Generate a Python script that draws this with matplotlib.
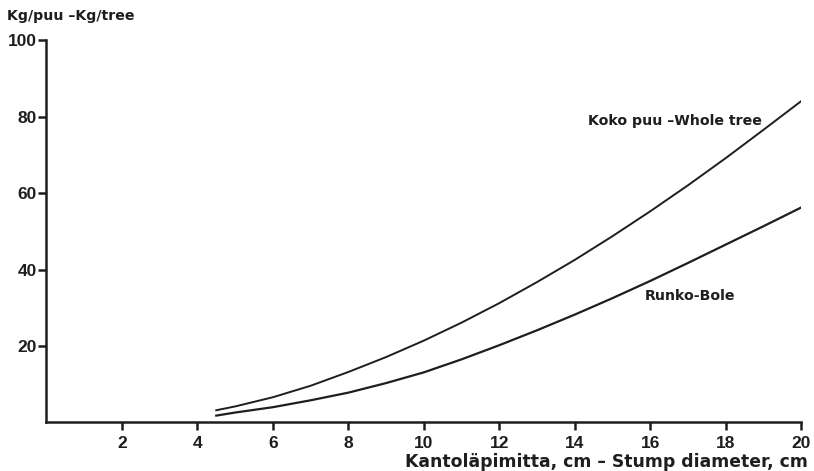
import matplotlib.pyplot as plt

# stump diameter, cm
diam = [4.5, 5, 6, 7, 8, 9, 10, 11, 12, 13, 14, 15, 16, 17, 18, 19, 20]
# kg per tree
whole_tree = [3.2, 4.2, 6.6, 9.6, 13.2, 17.1, 21.4, 26.1, 31.2, 36.7, 42.5, 48.7, 55.2, 62.0, 69.1, 76.5, 84.0]
bole = [1.8, 2.6, 4.0, 5.8, 7.8, 10.3, 13.1, 16.5, 20.2, 24.1, 28.2, 32.5, 37.0, 41.7, 46.5, 51.3, 56.2]

x_ticks = [2, 4, 6, 8, 10, 12, 14, 16, 18, 20]
y_ticks = [20, 40, 60, 80, 100]

ink = '#1e1e1e'
plt.rcParams['font.family'] = ['Liberation Sans', 'DejaVu Sans']
plt.rcParams['font.weight'] = 'bold'
lab_font = dict(family='DejaVu Sans', fontweight='bold', color=ink)

fig = plt.figure(figsize=(8.14, 4.71), dpi=100)
ax = fig.add_axes([0.0571, 0.103, 0.927, 0.812])

ax.plot(diam, whole_tree, color=ink, lw=1.4)
ax.plot(diam, bole, color=ink, lw=1.6)

ax.set_xlim(0, 20)
ax.set_ylim(0, 100)
ax.set_xticks(x_ticks)
ax.set_yticks(y_ticks)
ax.tick_params(axis='both', colors=ink, labelsize=12.5, width=1.8, length=6, direction='out')
ax.tick_params(axis='x', pad=4)
ax.tick_params(axis='y', pad=1)
for lab in ax.get_xticklabels() + ax.get_yticklabels():
    lab.set_fontweight('bold')

ax.spines['top'].set_visible(False)
ax.spines['right'].set_visible(False)
for s in ('left', 'bottom'):
    ax.spines[s].set_color(ink)
    ax.spines[s].set_linewidth(1.8)

fig.text(0.009, 0.965, 'Kg/puu \u2013Kg/tree', fontsize=10.2, ha='left', va='center', **lab_font)
fig.text(0.993, 0.019, 'Kantoläpimitta, cm \u2013 Stump diameter, cm', fontsize=12.4,
         ha='right', va='center', **lab_font)

ax.text(14.35, 78.8, 'Koko puu \u2013Whole tree', fontsize=10.2, ha='left', va='center', **lab_font)
ax.text(15.86, 33, 'Runko-Bole', fontsize=10.2, ha='left', va='center', **lab_font)

fig.savefig('out.png', dpi=100, facecolor='white')
